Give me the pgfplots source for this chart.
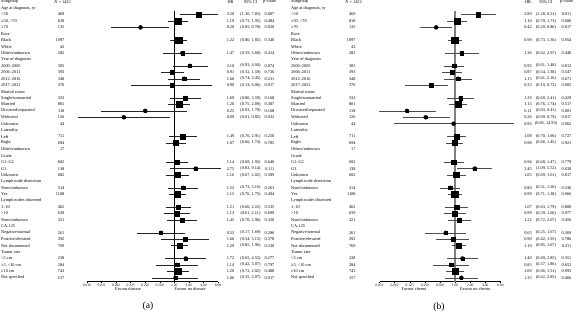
\documentclass[border=0pt]{standalone}
\usepackage{fontspec}
\setmainfont{Liberation Serif}
\usepackage{pgfplots}
\usepackage{pgfplotstable}
\pgfplotsset{compat=1.18}

\newcommand\rowfont{\fontsize{4.3bp}{5bp}\selectfont}

% Subgroups and patient counts (shared by both panels)
\pgfplotstableread[col sep=semicolon]{
row;label;n
0;Subgroup;
1;Age at diagnosis, yr;
2;<50;469
3;≥50, <70;818
4;≥70;135
5;Race;
6;Black;1097
7;White;43
8;Others/unknown;282
9;Year of diagnosis;
10;2000–2005;305
11;2006–2011;393
12;2012–2016;348
13;2017–2021;376
14;Marital status;
15;Single/unmarried;333
16;Married;801
17;Divorced/separated;118
18;Widowed;126
19;Unknown;44
20;Laterality;
21;Left;711
22;Right;694
23;Others/unknown;17
24;Grade;
25;G1–G2;602
26;G3;138
27;Unknown;682
28;Lymph node dissection;
29;None/unknown;314
30;Yes;1108
31;Lymph nodes dissected;
32;1–10;462
33;>10;639
34;None/unknown;321
35;CA-125;
36;Negative/normal;261
37;Positive/elevated;392
38;Not documented;769
39;Tumor size;
40;<5 cm;238
41;≥5, <10 cm;284
42;≥10 cm;743
43;Not specified;157
}\subgroups

% Panel (a): hazard ratios with 95% CI
\pgfplotstableread{
row n hr lo hi p
2 469 3.20 1.30 7.83 0.007
3 818 1.19 0.73 1.95 0.484
4 135 0.20 0.05 0.78 0.020
6 1097 1.22 0.80 1.85 0.340
8 282 1.47 0.59 3.68 0.414
10 305 2.10 0.93 4.94 0.074
11 393 0.91 0.52 1.59 0.736
12 348 1.60 0.74 3.45 0.231
13 376 0.90 0.13 6.06 0.917
15 333 1.69 0.80 3.59 0.168
16 801 1.26 0.75 2.09 0.387
17 118 0.25 0.03 1.79 0.168
18 126 0.09 0.01 0.82 0.032
21 711 1.49 0.76 2.91 0.250
22 694 1.07 0.66 1.74 0.785
25 602 1.14 0.68 1.92 0.640
26 138 2.75 0.83 9.14 0.111
27 682 1.16 0.67 2.02 0.589
29 314 1.52 0.73 3.16 0.263
30 1108 1.15 0.76 1.75 0.494
32 462 1.21 0.66 2.22 0.535
33 639 1.13 0.61 2.11 0.699
34 321 1.45 0.70 2.96 0.320
36 261 0.53 0.17 1.69 0.286
37 392 1.66 0.54 5.15 0.378
38 769 1.29 0.85 1.96 0.230
40 238 1.72 0.65 4.53 0.277
41 284 1.14 0.42 3.07 0.797
42 743 1.20 0.72 2.02 0.488
43 157 1.06 0.35 3.07 0.917
}\panelA

% Panel (b): hazard ratios with 95% CI
\pgfplotstableread{
row n hr lo hi p
2 469 2.89 1.28 6.51 0.011
3 818 1.10 0.70 1.73 0.680
4 135 0.42 0.20 0.86 0.017
6 1097 0.99 0.73 1.36 0.954
8 282 1.36 0.62 2.97 0.440
10 305 0.95 0.61 1.48 0.813
11 393 0.87 0.54 1.38 0.547
12 348 1.15 0.61 2.16 0.671
13 376 0.33 0.10 0.72 0.005
15 333 1.29 0.69 2.41 0.429
16 801 1.15 0.76 1.74 0.517
17 118 0.11 0.03 0.41 0.001
18 126 0.26 0.09 0.79 0.017
19 44 0.93 0.06 14.93 0.962
21 711 1.08 0.70 1.66 0.727
22 694 0.98 0.66 1.45 0.921
25 602 0.94 0.60 1.47 0.779
26 138 2.45 1.09 5.52 0.030
27 682 1.05 0.69 1.61 0.817
29 314 0.80 0.51 1.26 0.336
30 1108 0.99 0.71 1.38 0.966
32 462 1.07 0.63 1.79 0.800
33 639 0.99 0.59 1.66 0.977
34 321 1.22 0.72 2.07 0.456
36 261 0.65 0.25 1.67 0.369
37 392 0.90 0.42 1.93 0.786
38 769 1.19 0.85 1.67 0.311
40 238 1.40 0.69 2.85 0.351
41 284 0.83 0.37 1.86 0.652
42 743 1.00 0.66 1.51 0.993
43 157 1.33 0.62 2.85 0.466
}\panelB

% "(lo, hi)" text column built from the interval bounds
\newcommand\addcicol[1]{%
  \pgfplotstablecreatecol[create col/assign/.code={%
      \getthisrow{lo}\cilo \getthisrow{hi}\cihi
      \edef\cientry{(\cilo, \cihi)}%
      \pgfkeyslet{/pgfplots/table/create col/next content}\cientry}]
    {ci}{#1}}
\addcicol{\panelA}
\addcicol{\panelB}

\pgfplotsset{
  forest/.style={
    scale only axis, anchor=south west, height=286.3bp,
    ymin=-43.6, ymax=1, clip=false,
    axis x line=bottom, axis y line=none,
    axis line style={-, line width=0.4bp, black},
    major tick length=1.6bp, tick align=outside,
    tick style={line width=0.4bp, black},
    xticklabel style={font=\fontsize{3.6bp}{4bp}\selectfont, inner sep=0.6bp},
  },
  txt/.style={only marks, mark=none, nodes near coords,
    point meta=explicit symbolic,
    every node near coord/.append style={inner sep=0pt, font=\rowfont, #1}},
}

% subgroup names and counts: #1 x of names, #2 right edge of counts
\newcommand\subgrouptext[2]{%
  \addplot[txt={anchor=west}]
    table[x expr=#1, y expr=-\thisrow{row}, meta=label] {\subgroups};
  \addplot[txt={anchor=east}]
    table[x expr=#2, y expr=-\thisrow{row}, meta=n] {\subgroups};
}
% HR, CI and p columns: #1 table, #2 #3 #4 column centres
\newcommand\valuetext[4]{%
  \addplot[txt={anchor=center}]
    table[x expr=#2, y expr=-\thisrow{row}, meta=hr] {#1};
  \addplot[txt={anchor=center}]
    table[x expr=#3, y expr=-\thisrow{row}, meta=ci] {#1};
  \addplot[txt={anchor=center}]
    table[x expr=#4, y expr=-\thisrow{row}, meta=p] {#1};
}
% confidence intervals and weighted squares on a log2 scale
\newcommand\forestplot[2]{%
  \addplot[only marks, mark=none,
    error bars/.cd, x dir=both, x explicit, error mark=none,
    error bar style={draw=#2, line width=0.5bp}]
    table[x expr={ln(\thisrow{hr})/ln(2)}, y expr=-\thisrow{row},
      x error plus expr={ln(\thisrow{hi}/\thisrow{hr})/ln(2)},
      x error minus expr={ln(\thisrow{hr}/\thisrow{lo})/ln(2)}] {#1};
  \addplot[scatter, only marks, mark=square*,
    scatter/use mapped color={draw=black, fill=black},
    visualization depends on={0.1*sqrt(\thisrow{n})\as\msz},
    scatter/@pre marker code/.append style={/tikz/mark size=\msz}]
    table[x expr={ln(\thisrow{hr})/ln(2)}, y expr=-\thisrow{row}] {#1};
}

\begin{document}
\begin{tikzpicture}[x=1bp, y=1bp]
\path[use as bounding box] (0,0) rectangle (584,313);

% ---------- panel (a) ----------
\begin{axis}[forest, at={(87bp,31.4bp)}, width=131bp,
  xmin=-6, xmax=3, xtick={-6,...,3},
  xticklabels={0.016,0.031,0.062,0.125,0.250,0.500,1.00,2.00,4.00,8.00}]
  \addplot[black, line width=0.5bp] coordinates {(0,-1.4) (0,-43.6)};
  \forestplot{\panelA}{black!85}
  \subgrouptext{-11.906}{-7.543}
  \valuetext{\panelA}{3.861}{5.235}{6.540}
  \node[font=\rowfont] at (axis cs:-7.681,0) {\textit{N} = 1422};
  \node[font=\rowfont] at (axis cs:3.861,0) {HR};
  \node[font=\rowfont] at (axis cs:5.235,0) {95\% CI};
  \node[font=\rowfont] at (axis cs:6.540,0) {\textit{p}-value};
  \node[font=\rowfont] at (axis cs:-3.181,-44.75) {Favour disease};
  \node[font=\rowfont] at (axis cs:1.079,-44.75) {Favour no disease};
\end{axis}

% ---------- panel (b) ----------
\begin{axis}[forest, at={(379.5bp,31.4bp)}, width=121bp,
  xmin=-5, xmax=3, xtick={-5,...,3},
  xticklabels={0.031,0.062,0.125,0.250,0.500,1.00,2.00,4.00,8.00}]
  \addplot[gray, line width=1.4bp] coordinates {(0,-1.4) (0,-43.6)};
  \forestplot{\panelB}{black!70}
  \subgrouptext{-10.850}{-6.572}
  \valuetext{\panelB}{4.820}{6.010}{7.365}
  \node[font=\rowfont] at (axis cs:-6.717,0) {\textit{N} = 1422};
  \node[font=\rowfont] at (axis cs:4.820,0) {HR};
  \node[font=\rowfont] at (axis cs:6.010,0) {95\% CI};
  \node[font=\rowfont] at (axis cs:7.365,0) {\textit{p}-value};
  \node[font=\rowfont] at (axis cs:-2.717,-44.75) {Favour chemo};
  \node[font=\rowfont] at (axis cs:1.316,-44.75) {Favour no chemo};
\end{axis}

\node[font=\fontsize{9.5bp}{11bp}\selectfont] at (148,7) {(a)};
\node[font=\fontsize{9.5bp}{11bp}\selectfont] at (439,6) {(b)};
\end{tikzpicture}
\end{document}
